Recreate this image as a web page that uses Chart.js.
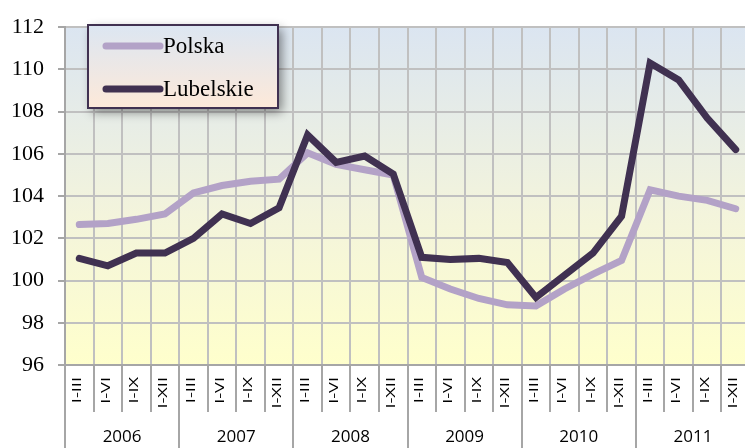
<!DOCTYPE html>
<html>
<head>
<meta charset="utf-8">
<script src="https://cdn.jsdelivr.net/npm/chart.js@4/dist/chart.umd.min.js"></script>
<style>
  html, body { margin: 0; padding: 0; background: #fff; overflow: hidden; }
  #wrap { width: 750px; height: 448px; position: relative; }
</style>
</head>
<body>
<div id="wrap"><canvas id="wykres"></canvas></div>
<script>
const okresy = ["I-III", "I-VI", "I-IX", "I-XII"];
const lata = ["2006", "2007", "2008", "2009", "2010", "2011"];
const etykiety = lata.flatMap(() => okresy);

const polska = [
  102.65, 102.7, 102.9, 103.15,
  104.15, 104.5, 104.7, 104.8,
  106.05, 105.5, 105.25, 105.0,
  100.15, 99.6, 99.15, 98.85,
  98.8, 99.6, 100.3, 100.95,
  104.3, 104.0, 103.8, 103.4
];
const lubelskie = [
  101.05, 100.7, 101.3, 101.3,
  102.0, 103.15, 102.7, 103.45,
  106.9, 105.6, 105.9, 105.05,
  101.1, 101.0, 101.05, 100.85,
  99.2, 100.25, 101.3, 103.05,
  110.3, 109.5, 107.7, 106.2
];

const kolorPolska = "#b3a2c7";
const kolorLubelskie = "#403151";
const kolorSiatki = "#c0c0c0";
const kolorOsi = "#a6a6a6";

// tlo obszaru wykresu (niebieski -> zolty)
const tloPlugin = {
  id: "tlo",
  beforeDraw(chart) {
    const { ctx, chartArea: a } = chart;
    const g = ctx.createLinearGradient(0, a.top, 0, a.bottom);
    g.addColorStop(0, "#dbe5f1");
    g.addColorStop(0.55, "#f3f4dc");
    g.addColorStop(1, "#ffffcc");
    ctx.save();
    ctx.fillStyle = g;
    ctx.fillRect(a.left, a.top, a.right - a.left, a.bottom - a.top);
    ctx.restore();
  }
};

// etykiety okresow (pionowe, rozciagniete), linie podzialu i lata
const lataPlugin = {
  id: "lata",
  afterDraw(chart) {
    const { ctx } = chart;
    const x = chart.scales.x;
    const polowa = (x.getPixelForValue(1) - x.getPixelForValue(0)) / 2;
    ctx.save();
    ctx.strokeStyle = kolorOsi;
    ctx.lineWidth = 2;
    for (let i = 0; i <= etykiety.length; i++) {
      const px = Math.round(x.getPixelForValue(i) - polowa);
      const dol = i % 4 === 0 ? chart.height : x.top + 47;
      ctx.beginPath();
      ctx.moveTo(px, x.top);
      ctx.lineTo(px, dol);
      ctx.stroke();
    }

    ctx.fillStyle = "#000";
    ctx.font = "13px 'Open Sans'";
    ctx.textAlign = "right";
    ctx.textBaseline = "middle";
    etykiety.forEach((t, i) => {
      ctx.save();
      ctx.translate(x.getPixelForValue(i) - 2, x.top + 12);
      ctx.rotate(-Math.PI / 2);
      ctx.scale(1.4, 1);
      ctx.fillText(t, 0, 0);
      ctx.restore();
    });

    ctx.font = "17px 'Open Sans'";
    ctx.textAlign = "center";
    lata.forEach((rok, j) => {
      const srodek = (x.getPixelForValue(j * 4) + x.getPixelForValue(j * 4 + 3)) / 2;
      ctx.fillText(rok, srodek, 437);
    });
    ctx.restore();
  }
};

// legenda w ramce z cieniem
const legendaPlugin = {
  id: "legenda",
  afterDraw(chart) {
    const { ctx } = chart;
    const bx = 88, by = 25, bw = 190, bh = 83;
    ctx.save();
    const g = ctx.createLinearGradient(0, by, 0, by + bh);
    g.addColorStop(0, "#dce6f2");
    g.addColorStop(1, "#fde9d9");
    ctx.shadowColor = "rgba(0,0,0,0.45)";
    ctx.shadowBlur = 10;
    ctx.shadowOffsetX = 4;
    ctx.shadowOffsetY = 4;
    ctx.fillStyle = g;
    ctx.fillRect(bx, by, bw, bh);
    ctx.shadowColor = "transparent";
    ctx.strokeStyle = kolorLubelskie;
    ctx.lineWidth = 2;
    ctx.strokeRect(bx, by, bw, bh);

    chart.data.datasets.forEach((ds, i) => {
      const y = by + 21 + i * 43;
      ctx.strokeStyle = ds.borderColor;
      ctx.lineWidth = 7;
      ctx.lineCap = "round";
      ctx.beginPath();
      ctx.moveTo(106, y);
      ctx.lineTo(160, y);
      ctx.stroke();
      ctx.fillStyle = "#000";
      ctx.font = "23px 'Liberation Serif'";
      ctx.textBaseline = "middle";
      ctx.textAlign = "left";
      ctx.fillText(ds.label, 163, y + 1);
    });
    ctx.restore();
  }
};

new Chart(document.getElementById("wykres"), {
  type: "line",
  data: {
    labels: etykiety,
    datasets: [
      {
        label: "Polska",
        data: polska,
        borderColor: kolorPolska,
        borderWidth: 7,
        pointRadius: 0,
        borderCapStyle: "round",
        tension: 0,
        order: 1
      },
      {
        label: "Lubelskie",
        data: lubelskie,
        borderColor: kolorLubelskie,
        borderWidth: 7,
        pointRadius: 0,
        borderCapStyle: "round",
        tension: 0,
        order: 0
      }
    ]
  },
  options: {
    responsive: true,
    maintainAspectRatio: false,
    animation: false,
    layout: { padding: { top: 25, left: 0, right: 0, bottom: 0 } },
    plugins: {
      legend: { display: false },
      tooltip: { enabled: false }
    },
    scales: {
      x: {
        type: "category",
        offset: true,
        grid: {
          offset: true,
          color: kolorSiatki,
          lineWidth: 2,
          drawTicks: false
        },
        border: { color: kolorOsi, width: 2 },
        ticks: { display: false, autoSkip: false },
        afterFit(scale) { scale.height = 83; }
      },
      y: {
        min: 96,
        max: 112,
        grid: {
          color: kolorSiatki,
          lineWidth: 2,
          tickLength: 7,
          tickColor: kolorOsi
        },
        border: { color: kolorOsi, width: 2 },
        ticks: {
          stepSize: 2,
          padding: 14,
          color: "#000",
          font: { family: "'Liberation Serif'", size: 22 }
        },
        afterFit(scale) { scale.width = 65; }
      }
    }
  },
  plugins: [tloPlugin, lataPlugin, legendaPlugin]
});
</script>
</body>
</html>
